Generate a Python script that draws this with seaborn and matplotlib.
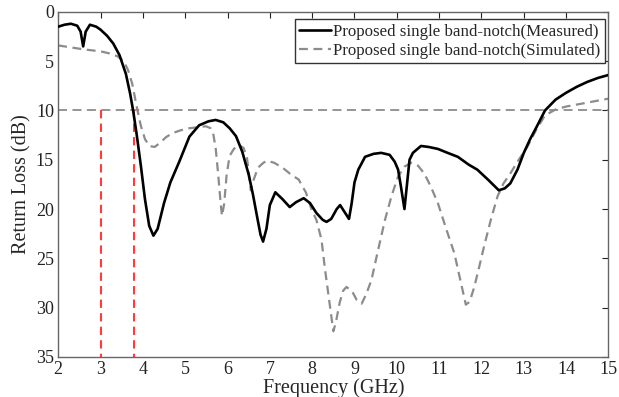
import pandas as pd
import matplotlib
matplotlib.use("Agg")
import matplotlib.pyplot as plt
import seaborn as sns

# Measured return loss (solid black)
meas_freq = [2.0, 2.15, 2.3, 2.45, 2.53, 2.59, 2.65, 2.75, 2.9, 3.0, 3.15, 3.3, 3.45,
             3.6, 3.7, 3.77, 3.85, 3.95, 4.05, 4.15, 4.25, 4.35, 4.5, 4.65, 4.86,
             5.1, 5.33, 5.55, 5.72, 5.9, 6.05, 6.2, 6.35, 6.5, 6.6, 6.7, 6.78, 6.84,
             6.92, 7.0, 7.13, 7.3, 7.47, 7.62, 7.8, 7.95, 8.1, 8.25, 8.34, 8.45, 8.58,
             8.66, 8.75, 8.87, 8.93, 9.0, 9.09, 9.25, 9.45, 9.63, 9.83, 9.95, 10.03,
             10.1, 10.18, 10.24, 10.3, 10.38, 10.57, 10.75, 10.97, 11.2, 11.44, 11.7,
             11.9, 12.15, 12.41, 12.55, 12.68, 12.85, 13.0, 13.15, 13.31, 13.5, 13.75,
             14.0, 14.25, 14.5, 14.75, 15.0]
meas_rl = [1.5, 1.3, 1.2, 1.4, 2.0, 3.5, 2.0, 1.3, 1.5, 1.8, 2.4, 3.2, 4.4,
           6.3, 8.3, 10.0, 12.3, 15.5, 19.0, 21.7, 22.7, 22.0, 19.4, 17.3, 15.2,
           12.65, 11.5, 11.1, 10.96, 11.2, 11.8, 12.6, 14.2, 16.5, 18.5, 20.8, 22.6, 23.3,
           22.0, 19.6, 18.3, 19.0, 19.8, 19.3, 18.9, 19.4, 20.4, 21.1, 21.3, 21.0, 20.0,
           19.6, 20.2, 21.0, 19.5, 17.3, 16.0, 14.7, 14.4, 14.3, 14.5, 15.2, 16.0,
           17.8, 20.0, 17.5, 15.0, 14.3, 13.6, 13.7, 13.9, 14.3, 14.7, 15.5,
           16.0, 17.0, 18.1, 17.9, 17.4, 16.0, 14.3, 12.9, 11.6, 10.0, 8.9,
           8.2, 7.6, 7.1, 6.7, 6.4]

# Simulated return loss (dashed gray)
sim_freq = [2.0, 2.3, 2.6, 3.0, 3.2, 3.4, 3.55, 3.65, 3.75, 3.85, 3.95, 4.05, 4.15,
            4.28, 4.4, 4.55, 4.7, 4.9, 5.1, 5.3, 5.49, 5.6, 5.66, 5.72, 5.78, 5.84,
            5.87, 5.92, 5.98, 6.05, 6.15, 6.27, 6.38, 6.46, 6.51, 6.55, 6.62, 6.72,
            6.85, 6.93, 7.1, 7.3, 7.5, 7.68, 7.85, 7.99, 8.1, 8.22, 8.3, 8.4, 8.5,
            8.56, 8.65, 8.73, 8.81, 8.95, 9.05, 9.17, 9.28, 9.4, 9.55, 9.72, 9.88,
            10.03, 10.18, 10.34, 10.5, 10.65, 10.8, 10.97, 11.15, 11.36, 11.5, 11.63,
            11.72, 11.83, 11.95, 12.06, 12.22, 12.38, 12.52, 12.68, 12.85, 13.08,
            13.3, 13.5, 13.75, 14.0, 14.25, 14.5, 14.75, 15.0]
sim_rl = [3.4, 3.6, 3.8, 4.0, 4.2, 4.5, 5.0, 5.9, 7.3, 9.5, 11.5, 12.9, 13.6,
          13.7, 13.3, 12.7, 12.3, 12.0, 11.8, 11.7, 11.6, 11.8, 12.3, 13.8, 16.5, 19.5,
          20.7, 19.5, 16.5, 14.6, 13.9, 13.5, 13.8, 14.8, 16.6, 18.1, 17.0, 15.8,
          15.3, 15.1, 15.3, 15.8, 16.5, 17.0, 18.3, 20.1, 21.1, 23.1, 26.0, 29.2, 32.4,
          31.5, 29.5, 28.3, 27.9, 28.4, 29.2, 29.6, 28.6, 27.2, 24.3, 21.1, 18.6,
          16.7, 15.7, 15.3, 15.6, 16.4, 17.7, 19.4, 21.8, 24.5, 27.2, 29.7,
          29.4, 27.9, 25.8, 23.8, 21.1, 18.7, 17.4, 16.4, 15.2, 13.7,
          11.9, 10.5, 9.9, 9.6, 9.4, 9.2, 9.0, 8.8]

# reference levels
threshold_db = 10
band_edges = [3.0, 3.8]

meas_df = pd.DataFrame({"Frequency": meas_freq, "RL": meas_rl})
sim_df = pd.DataFrame({"Frequency": sim_freq, "RL": sim_rl})

sns.set_style("white")
plt.rcParams['font.family'] = ['Liberation Serif', 'DejaVu Serif']

fig = plt.figure(figsize=(6.19, 3.97), dpi=100)
ax = fig.add_axes([0.094, 0.101, 0.889, 0.869])

ax.axhline(threshold_db, color='#8c8c8c', lw=1.3, ls=(0, (5, 3)), zorder=1)
for x in band_edges:
    ax.plot([x, x], [threshold_db, 35], color='#ff3b3b', lw=1.5, ls=(0, (4, 2.5)), zorder=1)

sns.lineplot(data=meas_df, x="Frequency", y="RL", ax=ax, color='black', lw=1.9,
             sort=False, label='Proposed single band-notch(Measured)', zorder=3)
sns.lineplot(data=sim_df, x="Frequency", y="RL", ax=ax, color='#8c8c8c', lw=1.6,
             sort=False, ls=(0, (4, 2.5)), label='Proposed single band-notch(Simulated)', zorder=2)

ax.set_xlim(2, 15)
ax.set_ylim(35, 0)
ax.set_xticks(range(2, 16))
ax.set_yticks(range(0, 36, 5))
ax.set_xlabel('Frequency (GHz)', fontsize=14.5, labelpad=0)
ax.set_ylabel('Return Loss (dB)', fontsize=14.5, labelpad=3)
ax.tick_params(direction='in', length=4, width=0.8, top=True, right=True,
               labelsize=13, colors='#222222', pad=3)
for s in ax.spines.values():
    s.set_color('#666666')
    s.set_linewidth(1.0)

leg = ax.legend(loc='upper right', bbox_to_anchor=(0.993, 0.978), fontsize=12.2,
                frameon=True, fancybox=False, edgecolor='#333333', framealpha=1,
                borderaxespad=0, handlelength=1.9, handletextpad=0.1,
                borderpad=0.25, labelspacing=0.2)
leg.get_frame().set_linewidth(1.0)

fig.savefig("out.png", dpi=100)
